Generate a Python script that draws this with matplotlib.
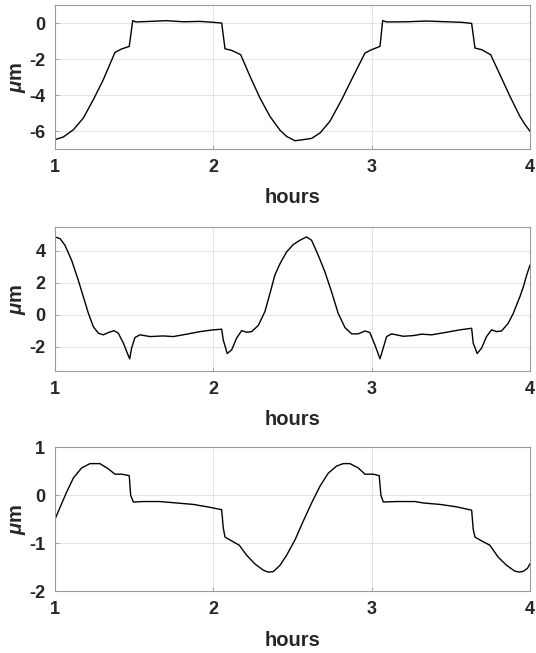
import numpy as np
import matplotlib
matplotlib.use("Agg")
import matplotlib.pyplot as plt

plt.rcParams["font.family"] = ["Liberation Sans", "DejaVu Sans"]
plt.rcParams["mathtext.fontset"] = "custom"
plt.rcParams["mathtext.it"] = "Liberation Sans:italic:bold"
plt.rcParams["mathtext.rm"] = "Liberation Sans:bold"
plt.rcParams["axes.unicode_minus"] = False

# panel 1 trace (hours, um)
x1 = [1.0, 1.053, 1.116, 1.179, 1.242, 1.305, 1.379, 1.421, 1.469, 1.491, 1.512,
      1.6, 1.705, 1.81, 1.916, 2.0, 2.053, 2.074, 2.116, 2.173, 2.232, 2.295,
      2.358, 2.421, 2.463, 2.516, 2.568, 2.621, 2.674, 2.737, 2.811, 2.884,
      2.958, 3.0, 3.053, 3.07, 3.095, 3.221, 3.347, 3.474, 3.568, 3.632, 3.653,
      3.695, 3.752, 3.811, 3.874, 3.937, 3.97, 4.0]
y1 = [-6.48, -6.33, -5.93, -5.28, -4.26, -3.15, -1.63, -1.44, -1.30, 0.13, 0.06,
      0.09, 0.13, 0.07, 0.09, 0.04, 0.0, -1.43, -1.52, -1.76, -2.96, -4.17,
      -5.19, -5.95, -6.30, -6.54, -6.48, -6.41, -6.11, -5.46, -4.26, -2.96,
      -1.67, -1.48, -1.30, 0.13, 0.06, 0.07, 0.11, 0.07, 0.04, -0.02, -1.39,
      -1.48, -1.76, -2.87, -4.07, -5.19, -5.65, -6.0]

# panel 2 trace
x2 = [1.0, 1.032, 1.063, 1.105, 1.147, 1.179, 1.211, 1.242, 1.274, 1.305, 1.337,
      1.373, 1.4, 1.432, 1.457, 1.472, 1.484, 1.505, 1.537, 1.6, 1.684, 1.747,
      1.832, 1.916, 2.0, 2.053, 2.063, 2.088, 2.116, 2.147, 2.179, 2.211, 2.242,
      2.284, 2.326, 2.358, 2.389, 2.421, 2.463, 2.505, 2.547, 2.589, 2.621,
      2.663, 2.705, 2.747, 2.789, 2.832, 2.874, 2.916, 2.958, 2.989, 3.021,
      3.053, 3.07, 3.095, 3.126, 3.2, 3.263, 3.316, 3.379, 3.474, 3.558, 3.632,
      3.642, 3.667, 3.695, 3.726, 3.758, 3.789, 3.821, 3.863, 3.895, 3.92,
      3.937, 3.96, 3.98, 4.0]
y2 = [4.88, 4.77, 4.36, 3.42, 2.18, 1.14, 0.10, -0.73, -1.14, -1.24, -1.10,
      -0.98, -1.14, -1.76, -2.39, -2.74, -2.07, -1.41, -1.24, -1.35, -1.31, -1.35,
      -1.20, -1.04, -0.93, -0.89, -1.56, -2.41, -2.18, -1.45, -0.98, -1.08, -1.04,
      -0.66, 0.21, 1.35, 2.49, 3.2, 3.94, 4.40, 4.67, 4.88, 4.67,
      3.73, 2.70, 1.45, 0.10, -0.79, -1.18, -1.18, -1.0, -1.10, -1.87,
      -2.74, -2.18, -1.35, -1.18, -1.33, -1.29, -1.20, -1.24, -1.08, -0.93, -0.83,
      -1.76, -2.41, -2.07, -1.35, -0.93, -1.04, -1.0, -0.52, 0.10, 0.73,
      1.14, 1.8, 2.5, 3.1]

# panel 3 trace
x3 = [1.0, 1.032, 1.074, 1.116, 1.168, 1.221, 1.284, 1.337, 1.379, 1.421, 1.469,
      1.478, 1.495, 1.558, 1.663, 1.768, 1.874, 1.979, 2.053, 2.063, 2.074,
      2.116, 2.164, 2.211, 2.263, 2.316, 2.347, 2.379, 2.421, 2.463, 2.516,
      2.568, 2.621, 2.674, 2.726, 2.779, 2.821, 2.863, 2.916, 2.958, 3.011,
      3.048, 3.059, 3.074, 3.158, 3.274, 3.326, 3.432, 3.537, 3.632, 3.642,
      3.653, 3.695, 3.747, 3.8, 3.853, 3.905, 3.937, 3.96, 3.985, 4.0]
y3 = [-0.5, -0.25, 0.07, 0.36, 0.57, 0.66, 0.66, 0.55, 0.44, 0.44, 0.41,
      0.0, -0.14, -0.13, -0.13, -0.16, -0.19, -0.25, -0.30, -0.68, -0.87,
      -0.95, -1.04, -1.25, -1.43, -1.56, -1.60, -1.59, -1.46, -1.25, -0.93,
      -0.54, -0.16, 0.19, 0.46, 0.61, 0.66, 0.66, 0.57, 0.44, 0.44,
      0.41, 0.0, -0.14, -0.13, -0.13, -0.16, -0.19, -0.24, -0.31, -0.71,
      -0.87, -0.95, -1.04, -1.29, -1.46, -1.58, -1.60, -1.58, -1.52, -1.43]

panels = [
    (x1, y1, (-7, 1), [-6, -4, -2, 0], 0.7718),
    (x2, y2, (-3.5, 5.5), [-2, 0, 2, 4], 0.4319),
    (x3, y3, (-2, 1), [-2, -1, 0, 1], 0.0945),
]

fig = plt.figure(figsize=(5.36, 6.53), dpi=100)
for xs, ys, ylim, yt, bot in panels:
    ax = fig.add_axes((0.1026, bot, 0.886, 0.2205))
    ax.plot(xs, ys, color="black", lw=1.0)
    ax.set_xlim(1, 4)
    ax.set_ylim(*ylim)
    ax.set_xticks([1, 2, 3, 4])
    ax.set_yticks(yt)
    ax.grid(True, color="#e3e3e3", lw=0.7)
    ax.set_axisbelow(True)
    for s in ax.spines.values():
        s.set_color("#9a9a9a")
        s.set_linewidth(0.8)
    ax.tick_params(direction="in", length=3, width=0.6, colors="#9a9a9a",
                   labelcolor="#262626", labelsize=13, pad=7)
    for lab in ax.get_xticklabels() + ax.get_yticklabels():
        lab.set_fontweight("bold")
    ax.set_xlabel("hours", fontsize=14.5, fontweight="bold", color="#262626",
                  labelpad=9)
    ax.set_ylabel(r"$\mu$m", fontsize=14.5, fontweight="bold", color="#262626",
                  labelpad=1)

fig.savefig("out.png", dpi=100)
